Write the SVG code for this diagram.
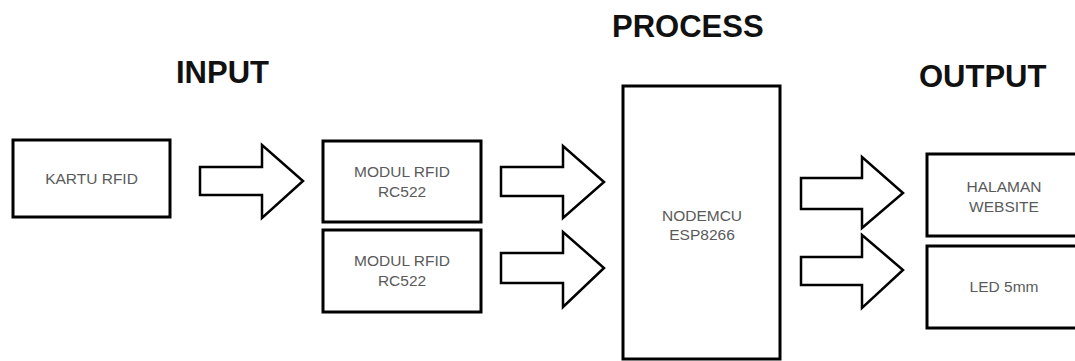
<svg xmlns="http://www.w3.org/2000/svg" width="1075" height="361" viewBox="0 0 1075 361">
<style>
.box{fill:#fff;stroke:#000;stroke-width:3}
.arr{fill:#fff;stroke:#000;stroke-width:2.5;stroke-linejoin:miter}
.lbl{font-family:"Liberation Sans",Arial,sans-serif;font-size:15.5px;fill:#5a5a5a;text-anchor:middle}
.ttl{font-family:"Liberation Sans",Arial,sans-serif;font-size:31px;font-weight:bold;fill:#111}
</style>
<rect width="1075" height="361" fill="#fff"/>
<text class="ttl" x="176" y="83">INPUT</text>
<text class="ttl" x="612" y="37">PROCESS</text>
<text class="ttl" x="919" y="87">OUTPUT</text>
<g id="connectors">
<polygon class="arr" points="200,167 262,167 262,145 303,181 262,218 262,195 200,195"/>
<polygon class="arr" points="501,167 563,167 563,146 604,182 563,218 563,196 501,196"/>
<polygon class="arr" points="501,253 563,253 563,232 604,268 563,307 563,283 501,283"/>
<polygon class="arr" points="801,178 862,178 862,157 903,193 862,228 862,209 801,209"/>
<polygon class="arr" points="801,257 862,257 862,235 903,270 862,308 862,285 801,285"/>
</g>
<g id="kartu">
<rect class="box" x="13" y="140" width="157" height="77"/>
<text class="lbl" x="91.5" y="184">KARTU RFID</text>
</g>
<g id="modul1">
<rect class="box" x="323" y="141" width="158" height="81"/>
<text class="lbl" x="402" y="177">MODUL RFID</text>
<text class="lbl" x="402" y="197">RC522</text>
</g>
<g id="modul2">
<rect class="box" x="323" y="230" width="158" height="82"/>
<text class="lbl" x="402" y="266">MODUL RFID</text>
<text class="lbl" x="402" y="286">RC522</text>
</g>
<g id="nodemcu">
<rect class="box" x="623" y="86" width="157" height="273"/>
<text class="lbl" x="702" y="221">NODEMCU</text>
<text class="lbl" x="702" y="240">ESP8266</text>
</g>
<g id="website">
<rect class="box" x="927" y="154" width="158" height="82"/>
<text class="lbl" x="1004" y="192">HALAMAN</text>
<text class="lbl" x="1004" y="212">WEBSITE</text>
</g>
<g id="led">
<rect class="box" x="927" y="246" width="158" height="82"/>
<text class="lbl" x="1004" y="292">LED 5mm</text>
</g>
</svg>
